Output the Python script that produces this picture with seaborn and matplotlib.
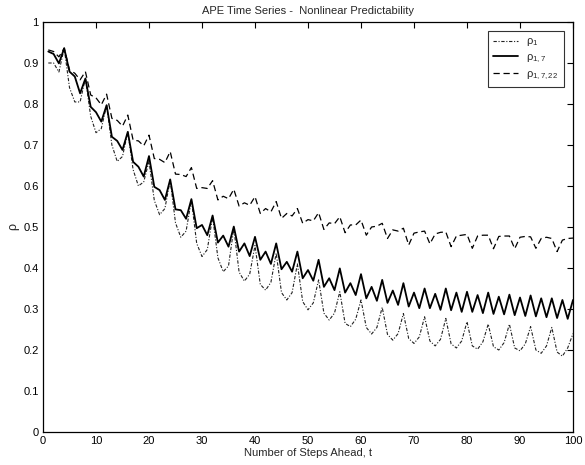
import numpy as np
import pandas as pd
import matplotlib
matplotlib.use("Agg")
import matplotlib.pyplot as plt
import seaborn as sns

steps = list(range(1, 101))

rho_1 = [
    0.900, 0.900, 0.878, 0.936, 0.840, 0.805, 0.805, 0.863, 0.770, 0.730,
    0.740, 0.797, 0.700, 0.660, 0.672, 0.732, 0.640, 0.600, 0.610, 0.660,
    0.565, 0.530, 0.545, 0.615, 0.510, 0.475, 0.490, 0.566, 0.460, 0.428,
    0.445, 0.525, 0.425, 0.391, 0.405, 0.497, 0.390, 0.368, 0.385, 0.455,
    0.360, 0.346, 0.365, 0.436, 0.340, 0.322, 0.340, 0.410, 0.318, 0.298,
    0.315, 0.371, 0.290, 0.273, 0.290, 0.342, 0.265, 0.257, 0.275, 0.322,
    0.255, 0.239, 0.255, 0.304, 0.238, 0.224, 0.240, 0.289, 0.228, 0.216,
    0.232, 0.281, 0.222, 0.210, 0.226, 0.277, 0.215, 0.205, 0.222, 0.269,
    0.210, 0.202, 0.220, 0.263, 0.208, 0.200, 0.218, 0.263, 0.205, 0.198,
    0.215, 0.257, 0.200, 0.192, 0.210, 0.255, 0.195, 0.185, 0.205, 0.240,
]

rho_1_7 = [
    0.928, 0.922, 0.899, 0.936, 0.879, 0.867, 0.826, 0.862, 0.793, 0.780,
    0.757, 0.797, 0.720, 0.710, 0.688, 0.732, 0.659, 0.647, 0.623, 0.673,
    0.598, 0.590, 0.566, 0.616, 0.543, 0.541, 0.520, 0.568, 0.497, 0.505,
    0.480, 0.528, 0.462, 0.479, 0.452, 0.501, 0.440, 0.460, 0.429, 0.476,
    0.420, 0.440, 0.410, 0.460, 0.397, 0.415, 0.391, 0.440, 0.375, 0.395,
    0.369, 0.420, 0.354, 0.375, 0.346, 0.399, 0.340, 0.363, 0.334, 0.385,
    0.326, 0.354, 0.320, 0.371, 0.315, 0.345, 0.310, 0.363, 0.306, 0.340,
    0.302, 0.350, 0.302, 0.337, 0.298, 0.350, 0.297, 0.340, 0.293, 0.342,
    0.293, 0.334, 0.290, 0.340, 0.288, 0.330, 0.287, 0.335, 0.285, 0.328,
    0.283, 0.333, 0.282, 0.326, 0.280, 0.326, 0.278, 0.322, 0.276, 0.322,
]

rho_1_7_22 = [
    0.932, 0.928, 0.915, 0.936, 0.883, 0.875, 0.859, 0.879, 0.822, 0.815,
    0.798, 0.824, 0.765, 0.760, 0.746, 0.773, 0.712, 0.710, 0.698, 0.724,
    0.667, 0.665, 0.657, 0.684, 0.629, 0.628, 0.623, 0.645, 0.594, 0.596,
    0.594, 0.613, 0.566, 0.575, 0.569, 0.592, 0.551, 0.559, 0.553, 0.574,
    0.533, 0.545, 0.537, 0.562, 0.521, 0.533, 0.527, 0.545, 0.509, 0.518,
    0.515, 0.535, 0.494, 0.510, 0.508, 0.525, 0.486, 0.505, 0.505, 0.517,
    0.480, 0.500, 0.502, 0.509, 0.472, 0.493, 0.490, 0.497, 0.456, 0.485,
    0.488, 0.490, 0.459, 0.483, 0.487, 0.488, 0.452, 0.478, 0.480, 0.482,
    0.448, 0.478, 0.480, 0.480, 0.447, 0.477, 0.478, 0.478, 0.447, 0.475,
    0.477, 0.476, 0.448, 0.472, 0.475, 0.472, 0.440, 0.468, 0.472, 0.473,
]

labels = [r"$\rho_1$", r"$\rho_{1,7}$", r"$\rho_{1,7,22}$"]
x_ticks = list(range(0, 101, 10))
y_ticks = [round(0.1 * i, 1) for i in range(11)]
y_tick_labels = ["0", "0.1", "0.2", "0.3", "0.4", "0.5", "0.6", "0.7", "0.8", "0.9", "1"]

df = pd.DataFrame({"t": steps, "r1": rho_1, "r17": rho_1_7, "r1722": rho_1_7_22})

sns.set_style("white")
plt.rcParams["font.family"] = ["Liberation Sans", "DejaVu Sans"]
plt.rcParams["mathtext.fontset"] = "custom"
plt.rcParams["mathtext.rm"] = "Liberation Sans"
plt.rcParams["mathtext.it"] = "Liberation Sans"

fig = plt.figure(figsize=(5.85, 4.65), dpi=100)
ax = fig.add_axes([43 / 585, 1 - 432 / 465, (573 - 43) / 585, (432 - 22) / 465])

sns.lineplot(data=df, x="t", y="r1", ax=ax, color="#222222", linewidth=0.8,
             linestyle=(0, (3, 1.5, 1, 1.5)), label=labels[0])
sns.lineplot(data=df, x="t", y="r17", ax=ax, color="black", linewidth=1.3,
             linestyle="-", label=labels[1])
sns.lineplot(data=df, x="t", y="r1722", ax=ax, color="black", linewidth=0.9,
             linestyle=(0, (5, 3)), label=labels[2])

ax.set_xlim(0, 100)
ax.set_ylim(0, 1)
ax.set_xticks(x_ticks)
ax.set_yticks(y_ticks)
ax.set_yticklabels(y_tick_labels)
ax.tick_params(direction="in", length=4, width=0.8, top=True, right=True,
               labelsize=8, pad=3, colors="black")
for s in ax.spines.values():
    s.set_color("black")
    s.set_linewidth(0.9)

ax.set_title("APE Time Series -  Nonlinear Predictability", fontsize=8, pad=6)
ax.set_xlabel("Number of Steps Ahead, t", fontsize=8, labelpad=1)
ax.set_ylabel(r"$\rho$", fontsize=9, labelpad=1)

leg = ax.legend(loc="upper right", fontsize=8, frameon=True, fancybox=False,
                edgecolor="black", borderpad=0.5, handlelength=2.2,
                labelspacing=0.35, borderaxespad=0.8)
leg.get_frame().set_linewidth(0.8)

fig.savefig("out.png", dpi=100)
